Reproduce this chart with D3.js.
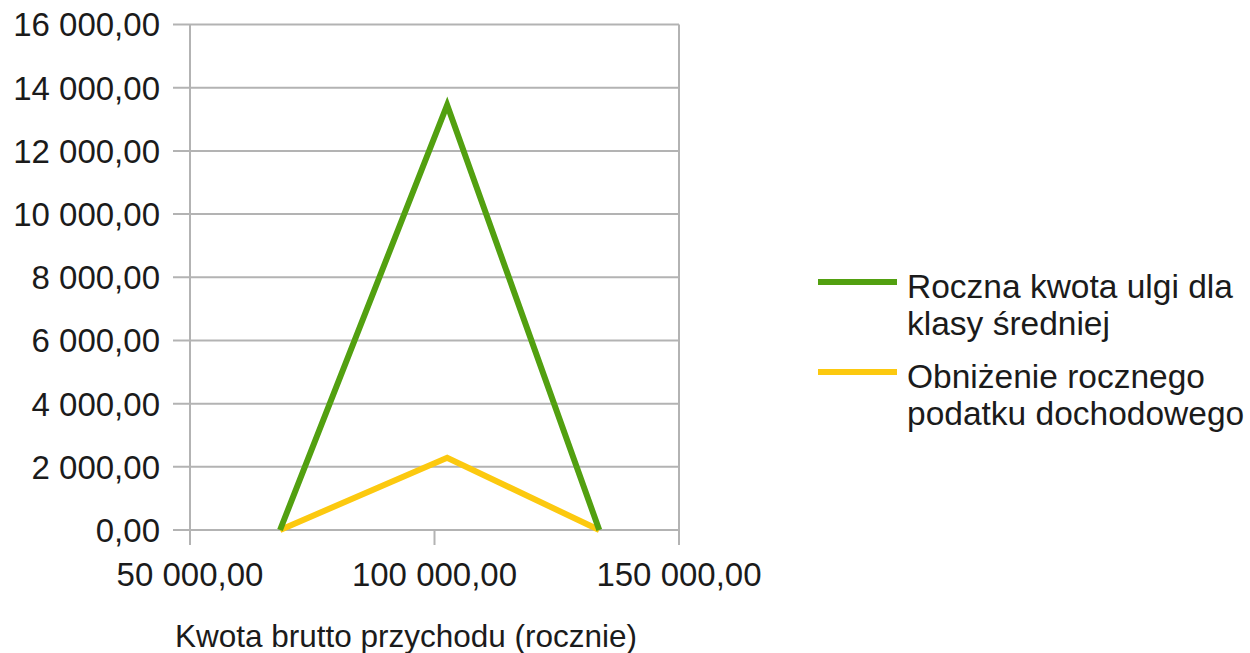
<!DOCTYPE html>
<html>
<head>
<meta charset="utf-8">
<script src="https://cdn.jsdelivr.net/npm/d3@7"></script>
<style>
  html, body { margin: 0; padding: 0; background: #fff; }
  svg { display: block; font-family: "Liberation Sans", Arial, sans-serif; }
</style>
</head>
<body>
<svg id="chart" width="1250" height="653"></svg>
<script>
// Annual gross income thresholds (zł)
const incomes = [68412, 102588, 133692];
// Annual middle-class relief amount
const reliefValues = [0, 13452.24, 0];
// Resulting reduction of annual income tax (17% of the relief)
const taxReductionValues = [0, 2286.88, 0];

const seriesNames = [
  ["Roczna kwota ulgi dla", "klasy średniej"],
  ["Obniżenie rocznego", "podatku dochodowego"]
];
const seriesColors = ["#52a010", "#fcc90f"];

const xTicks = [50000, 100000, 150000];
const yTicks = [0, 2000, 4000, 6000, 8000, 10000, 12000, 14000, 16000];
const xTitle = "Kwota brutto przychodu (rocznie)";

const svg = d3.select("#chart");
const plotLeft = 190, plotRight = 679, plotTop = 24.5, plotBottom = 530;

const x = d3.scaleLinear().domain([50000, 150000]).range([plotLeft, plotRight]);
const y = d3.scaleLinear().domain([0, 16000]).range([plotBottom, plotTop]);

// Polish number format: space thousands separator, comma decimals
const plFormat = d3.formatLocale({decimal: ",", thousands: " ", grouping: [3], currency: ["", " zł"]}).format(",.2f");

const gridColor = "#b3b3b3";
const textColor = "#1b1b1b";

// Horizontal gridlines with outer tick stubs
svg.append("g")
  .selectAll("line")
  .data(yTicks)
  .join("line")
  .attr("x1", plotLeft - 17)
  .attr("x2", plotRight)
  .attr("y1", d => y(d))
  .attr("y2", d => y(d))
  .attr("stroke", gridColor)
  .attr("stroke-width", 2);

// Y-axis labels
svg.append("g")
  .selectAll("text")
  .data(yTicks)
  .join("text")
  .attr("x", 160)
  .attr("y", d => y(d))
  .attr("dy", "0.36em")
  .attr("text-anchor", "end")
  .attr("font-size", 33)
  .attr("fill", textColor)
  .text(d => plFormat(d));

// Vertical axis line and right border line
svg.append("line")
  .attr("x1", plotLeft).attr("x2", plotLeft)
  .attr("y1", plotTop).attr("y2", plotBottom + 15)
  .attr("stroke", gridColor).attr("stroke-width", 2);
svg.append("line")
  .attr("x1", plotRight).attr("x2", plotRight)
  .attr("y1", plotTop).attr("y2", plotBottom + 15)
  .attr("stroke", gridColor).attr("stroke-width", 2);

// X tick stubs
svg.append("g")
  .selectAll("line")
  .data(xTicks)
  .join("line")
  .attr("x1", d => x(d)).attr("x2", d => x(d))
  .attr("y1", plotBottom).attr("y2", plotBottom + 15)
  .attr("stroke", gridColor).attr("stroke-width", 2);

// X tick labels
svg.append("g")
  .selectAll("text")
  .data(xTicks)
  .join("text")
  .attr("x", d => x(d))
  .attr("y", 574)
  .attr("dy", "0.36em")
  .attr("text-anchor", "middle")
  .attr("font-size", 33)
  .attr("fill", textColor)
  .text(d => plFormat(d));

// X-axis title
svg.append("text")
  .attr("x", 406)
  .attr("y", 636)
  .attr("dy", "0.36em")
  .attr("text-anchor", "middle")
  .attr("font-size", 31.5)
  .attr("fill", textColor)
  .text(xTitle);

// Series lines
const line = d3.line().x(d => x(d[0])).y(d => y(d[1]));
const seriesData = [
  incomes.map((v, i) => [v, reliefValues[i]]),
  incomes.map((v, i) => [v, taxReductionValues[i]])
];
// Draw the tax reduction beneath the relief line
[1, 0].forEach(i => {
  svg.append("path")
    .datum(seriesData[i])
    .attr("d", line)
    .attr("fill", "none")
    .attr("stroke", seriesColors[i])
    .attr("stroke-width", 6)
    .attr("stroke-linejoin", "miter")
    .attr("stroke-miterlimit", 10);
});

// Legend
const legendY = [282, 372];
const legend = svg.append("g");
seriesNames.forEach((lines, i) => {
  legend.append("line")
    .attr("x1", 818).attr("x2", 897)
    .attr("y1", legendY[i]).attr("y2", legendY[i])
    .attr("stroke", seriesColors[i]).attr("stroke-width", 6);
  lines.forEach((t, j) => {
    legend.append("text")
      .attr("x", 907)
      .attr("y", legendY[i] + 4 + j * 37)
      .attr("dy", "0.36em")
      .attr("font-size", 33.5)
      .attr("fill", textColor)
      .text(t);
  });
});
</script>
</body>
</html>
